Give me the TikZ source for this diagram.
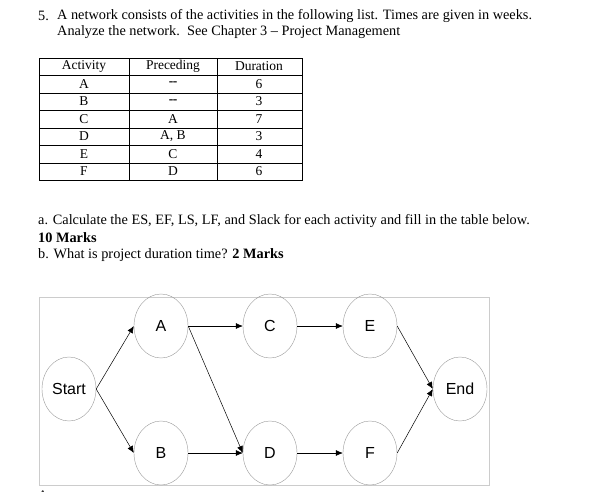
\documentclass[tikz,border=0pt]{standalone}
\usepackage{fontspec}
\setmainfont{Liberation Serif}
\newfontfamily\arialf{Liberation Sans}
\usetikzlibrary{arrows.meta,shapes.geometric}
\begin{document}
\begin{tikzpicture}[x=1pt,y=-1pt,
  txt/.style={anchor=west,inner sep=0,font=\fontsize{14.3}{16}\selectfont},
  cell/.style={inner sep=0,font=\fontsize{13.5}{14}\selectfont},
  ev/.style={draw=gray!80,ellipse,minimum width=54,minimum height=64,inner sep=0,font=\arialf\fontsize{16}{18}\selectfont},
  arr/.style={-{Latex[length=7pt,width=6pt]},black,line width=0.5pt}]
\useasboundingbox (0,0) rectangle (614,491);
\fill[white] (0,0) rectangle (614,491);
\node[txt] (n5) at (38,16) {5.};
\node[txt] (l1) at (57,16) {A network consists of the activities in the following list. Times are given in weeks.};
\node[txt] (l2) at (57,32) {Analyze the network.\ \ See Chapter 3 -- Project Management};
% table
\draw[line width=0.8pt] (39,58) rectangle (302,180);
\foreach \yy in {75,93,110,128,145,163} \draw[line width=0.6pt] (39,\yy) -- (302,\yy);
\foreach \xx in {129,217} \draw[line width=0.6pt] (\xx,58) -- (\xx,180);
\node[cell] (h1) at (84,66.5) {Activity};
\node[cell] (h2) at (173,66.5) {Preceding};
\node[cell] (h3) at (259,66.5) {Duration};
\foreach \a/\p/\d [count=\i] in {A/{\textbf{-}\kern-0.5pt\textbf{-}}/6,B/{\textbf{-}\kern-0.5pt\textbf{-}}/3,C/A/7,D/{A, B}/3,E/C/4,F/D/6}{
  \pgfmathsetmacro\yc{75+17.5*(\i-1)+8.75}
  \node[cell] (ra\i) at (84,\yc) {\a};
  \node[cell] (rp\i) at (173,\yc) {\p};
  \node[cell] (rd\i) at (259,\yc) {\d};
}
\node[txt] (qa) at (38,221) {a. Calculate the ES, EF, LS, LF, and Slack for each activity and fill in the table below.};
\node[txt] (qm) at (38,238) {\bfseries 10 Marks};
\node[txt] (qb) at (38,255) {b. What is project duration time? \textbf{2 Marks}};
% network
\draw[gray!40,line width=0.6pt] (39,297) rectangle (489,485);
\node[ev] (S) at (69,389) {Start};
\node[ev] (A) at (161,326) {A};
\node[ev] (B) at (161,453) {B};
\node[ev] (C) at (270,326) {C};
\node[ev] (D) at (270,453) {D};
\node[ev] (E) at (370,326) {E};
\node[ev] (F) at (370,453) {F};
\node[ev] (End) at (460,389) {End};
\draw[arr] (S.east) -- (A.west);
\draw[arr] (S.east) -- (B.west);
\draw[arr] (A.east) -- (C.west);
\draw[arr] (A.east) -- (D.west);
\draw[arr] (B.east) -- (D.west);
\draw[arr] (C.east) -- (E.west);
\draw[arr] (D.east) -- (F.west);
\draw[arr] (E.east) -- (End.west);
\draw[arr] (F.east) -- (End.west);
\node[anchor=west,inner sep=0,font=\arialf\fontsize{11}{12}\selectfont] (ans) at (39,495) {Answers};
\end{tikzpicture}
\end{document}
